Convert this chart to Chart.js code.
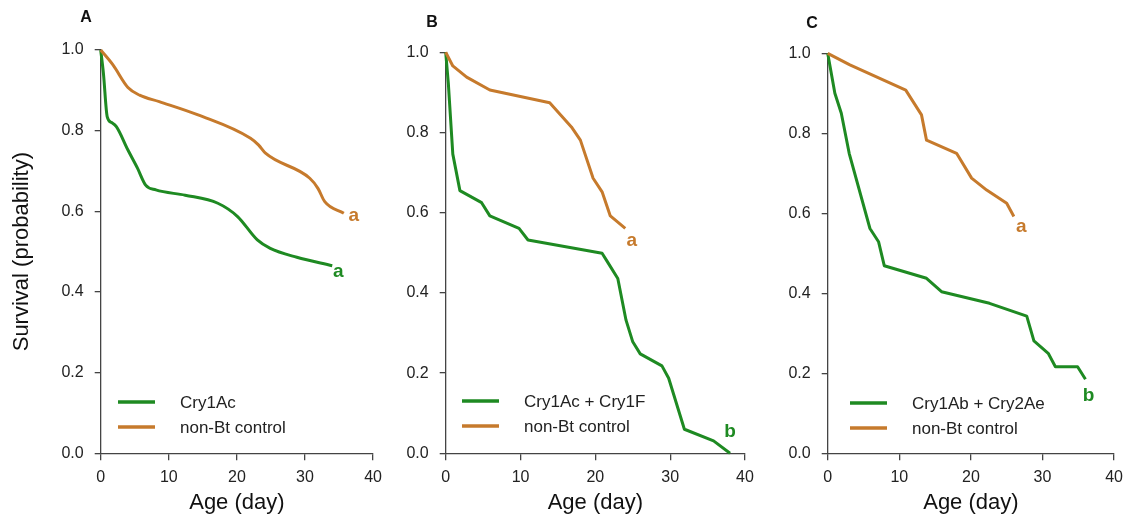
<!DOCTYPE html>
<html lang="en">
<head>
  <meta charset="UTF-8">
  <title>Survival curves</title>
  <script src="https://cdn.jsdelivr.net/npm/chart.js"></script>
  <style>
    body { margin: 0; background: #fff; }
    #wrap { position: relative; width: 1131px; height: 530px; }
    canvas { position: absolute; top: 0; }
  </style>
</head>
<body>
  <div id="wrap">
    <canvas id="chartA" width="390" height="530" style="left:0px"></canvas>
    <canvas id="chartB" width="380" height="530" style="left:390px"></canvas>
    <canvas id="chartC" width="361" height="530" style="left:770px"></canvas>
  </div>

  <script>
    // panel A
    var ageA_bt = [0, 0.4, 0.95, 1.6, 2.3, 4.0, 5.4, 6.6, 8.1, 12.4, 17.2, 20.1, 23.0, 24.9, 28.8, 34.0];
    var survA_bt = [1.0, 0.942, 0.835, 0.820, 0.810, 0.752, 0.707, 0.665, 0.653, 0.640, 0.620, 0.587, 0.529, 0.508, 0.486, 0.465];
    var ageA_ctrl = [0, 1.8, 4.0, 5.7, 8.6, 14.3, 22.0, 23.2, 24.2, 30.7, 31.9, 32.9, 35.7];
    var survA_ctrl = [1.0, 0.963, 0.907, 0.888, 0.872, 0.839, 0.781, 0.764, 0.744, 0.682, 0.657, 0.624, 0.595];

    // panel B
    var ageB_bt = [0, 0.35, 0.95, 1.9, 4.8, 5.9, 9.8, 11.0, 20.9, 21.6, 23.0, 24.1, 25.0, 26.0, 28.9, 29.8, 31.9, 35.8, 38.0];
    var survB_bt = [1.0, 0.923, 0.746, 0.655, 0.625, 0.592, 0.561, 0.532, 0.499, 0.478, 0.436, 0.332, 0.278, 0.248, 0.218, 0.187, 0.060, 0.031, 0.0];
    var ageB_ctrl = [0, 0.95, 2.8, 5.9, 13.9, 16.8, 18.0, 19.7, 20.9, 22.0, 24.0];
    var survB_ctrl = [1.0, 0.966, 0.938, 0.906, 0.874, 0.814, 0.781, 0.686, 0.652, 0.592, 0.561];

    // panel C
    var ageC_bt = [0, 1.0, 1.9, 3.0, 5.9, 7.1, 7.9, 13.8, 15.9, 22.6, 27.8, 28.8, 30.8, 31.8, 34.9, 36.0];
    var survC_bt = [1.0, 0.90, 0.85, 0.75, 0.562, 0.529, 0.469, 0.4375, 0.404, 0.375, 0.343, 0.281, 0.25, 0.2165, 0.2165, 0.185];
    var ageC_ctrl = [0, 3.1, 10.9, 13.1, 13.8, 18.0, 20.1, 22.2, 25.0, 26.0];
    var survC_ctrl = [1.0, 0.971, 0.908, 0.846, 0.783, 0.750, 0.688, 0.658, 0.625, 0.592];

    var btLabels = ['Cry1Ac', 'Cry1Ac + Cry1F', 'Cry1Ab + Cry2Ae'];
    var ctrlLabel = 'non-Bt control';
    var groupLetters = [['a', 'a'], ['b', 'a'], ['b', 'a']];

    var GREEN = '#1e8a22';
    var ORANGE = '#c67a2c';
    var FONT = '"Liberation Sans", Arial, sans-serif';

    function pts(xs, ys) {
      return xs.map(function(x, i) { return { x: x, y: ys[i] }; });
    }

    // panel letter, legend and group letters at line ends
    var extras = {
      id: 'extras',
      afterDatasetsDraw: function(chart, args, opts) {
        var ctx = chart.ctx;
        ctx.save();
        ctx.textBaseline = 'middle';
        ctx.font = 'bold 16px ' + FONT;
        ctx.fillStyle = '#111';
        ctx.textAlign = 'center';
        ctx.fillText(opts.panel, opts.panelX, opts.panelY);

        chart.data.datasets.forEach(function(ds, i) {
          var y = opts.legendY + i * 25;
          ctx.strokeStyle = ds.borderColor;
          ctx.lineWidth = 3.5;
          ctx.beginPath();
          ctx.moveTo(opts.legendX, y);
          ctx.lineTo(opts.legendX + 37, y);
          ctx.stroke();
          ctx.fillStyle = '#222';
          ctx.font = '17px ' + FONT;
          ctx.textAlign = 'left';
          ctx.fillText(ds.label, opts.legendX + 62, y + 1.5);

          var meta = chart.getDatasetMeta(i);
          var last = meta.data[meta.data.length - 1];
          ctx.fillStyle = ds.borderColor;
          ctx.font = 'bold 19px ' + FONT;
          ctx.textAlign = 'center';
          ctx.fillText(ds.groupLetter, last.x + ds.letterOffset[0], last.y + ds.letterOffset[1]);
        });
        ctx.restore();
      }
    };

    function makePanel(id, p) {
      var ctx = document.getElementById(id).getContext('2d');
      return new Chart(ctx, {
        type: 'line',
        data: {
          datasets: [{
            label: p.btLabel,
            data: pts(p.btX, p.btY),
            borderColor: GREEN,
            borderWidth: 3,
            pointRadius: 0,
            cubicInterpolationMode: p.smooth ? 'monotone' : 'default',
            tension: 0,
            borderJoinStyle: 'round',
            clip: false,
            order: 2,
            groupLetter: p.letters[0],
            letterOffset: p.btOffset
          }, {
            label: ctrlLabel,
            data: pts(p.ctrlX, p.ctrlY),
            borderColor: ORANGE,
            borderWidth: 3,
            pointRadius: 0,
            cubicInterpolationMode: p.smooth ? 'monotone' : 'default',
            tension: 0,
            borderJoinStyle: 'round',
            clip: false,
            order: 1,
            groupLetter: p.letters[1],
            letterOffset: p.ctrlOffset
          }]
        },
        options: {
          responsive: false,
          animation: false,
          devicePixelRatio: 1,
          layout: { padding: { left: 0, right: p.padRight, top: p.padTop, bottom: 0 } },
          plugins: {
            legend: { display: false },
            tooltip: { enabled: false },
            extras: {
              panel: p.panel, panelX: p.panelX, panelY: p.panelY,
              legendX: p.legendX, legendY: p.legendY
            }
          },
          scales: {
            x: {
              type: 'linear',
              min: 0, max: 40,
              afterFit: function(s) { s.height = p.xHeight; },
              ticks: { stepSize: 10, color: '#222', font: { family: FONT, size: 16 }, padding: 8, maxRotation: 0 },
              grid: { drawOnChartArea: false, drawTicks: true, tickLength: 7, color: '#444', lineWidth: 1.3 },
              border: { color: '#444', width: 1.3 },
              title: { display: true, text: 'Age (day)', color: '#111', font: { family: FONT, size: 22 }, padding: { top: 0, bottom: 14 } }
            },
            y: {
              type: 'linear',
              min: 0, max: 1,
              afterFit: function(s) { s.width = p.yWidth; },
              ticks: {
                stepSize: 0.2, color: '#222', font: { family: FONT, size: 16 }, padding: 11,
                callback: function(v) { return v.toFixed(1); }
              },
              grid: { drawOnChartArea: false, drawTicks: true, tickLength: 6, color: '#444', lineWidth: 1.3 },
              border: { color: '#444', width: 1.3 },
              title: { display: p.yTitle, text: 'Survival (probability)', color: '#111', font: { family: FONT, size: 22 }, padding: { top: 9, bottom: 0 } }
            }
          }
        },
        plugins: [extras]
      });
    }

    makePanel('chartA', {
      panel: 'A', panelX: 86, panelY: 18, legendX: 118, legendY: 402,
      btLabel: btLabels[0], letters: groupLetters[0],
      btX: ageA_bt, btY: survA_bt, ctrlX: ageA_ctrl, ctrlY: survA_ctrl,
      btOffset: [6, 6], ctrlOffset: [10, 2],
      smooth: true, yTitle: true,
      yWidth: 100.7, xHeight: 76.7, padTop: 50, padRight: 12.3
    });
    makePanel('chartB', {
      panel: 'B', panelX: 42, panelY: 23, legendX: 72, legendY: 401,
      btLabel: btLabels[1], letters: groupLetters[1],
      btX: ageB_bt, btY: survB_bt, ctrlX: ageB_ctrl, ctrlY: survB_ctrl,
      btOffset: [0, -22], ctrlOffset: [6.5, 12],
      smooth: false, yTitle: false,
      yWidth: 55.7, xHeight: 76.7, padTop: 52.3, padRight: 25
    });
    makePanel('chartC', {
      panel: 'C', panelX: 42, panelY: 24, legendX: 80, legendY: 403,
      btLabel: btLabels[2], letters: groupLetters[2],
      btX: ageC_bt, btY: survC_bt, ctrlX: ageC_ctrl, ctrlY: survC_ctrl,
      btOffset: [3, 16], ctrlOffset: [7.5, 10],
      smooth: false, yTitle: false,
      yWidth: 57.7, xHeight: 76.7, padTop: 53.3, padRight: 16.7
    });
  </script>
</body>
</html>
